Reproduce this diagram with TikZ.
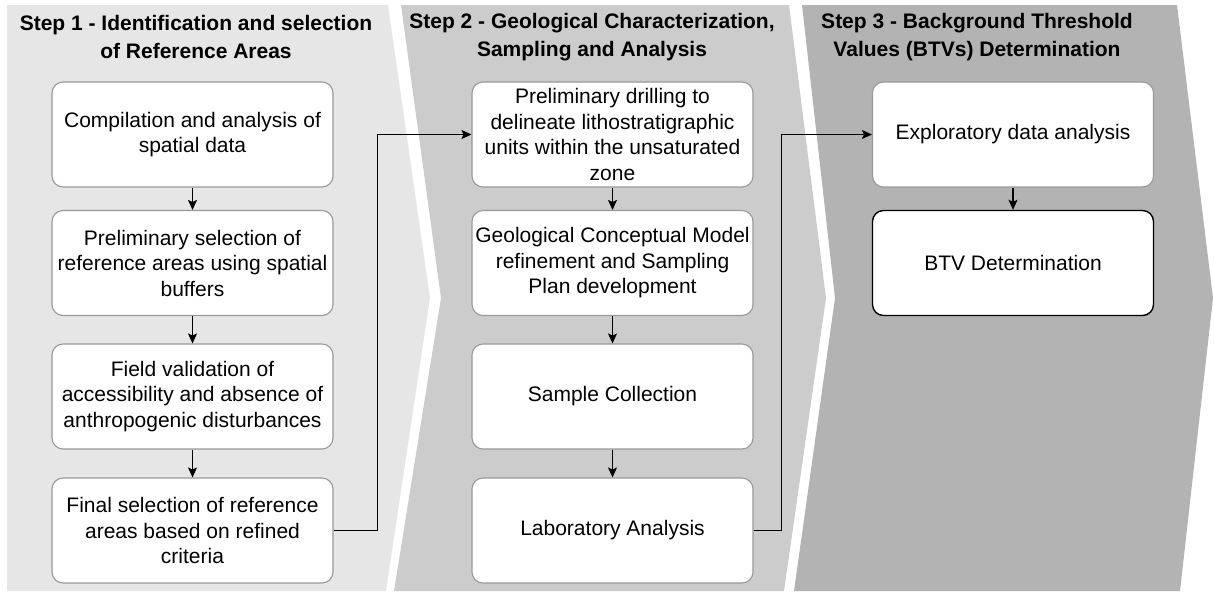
\documentclass[tikz,border=0pt]{standalone}
\usepackage{fontspec}
\setmainfont{Liberation Sans}
\usetikzlibrary{arrows.meta}
\definecolor{pone}{HTML}{E6E6E6}
\definecolor{ptwo}{HTML}{CCCCCC}
\definecolor{pthree}{HTML}{B3B3B3}
\definecolor{boxgray}{HTML}{999999}
\begin{document}
\begin{tikzpicture}[x=1pt,y=-1pt,
  box/.style={draw=boxgray, line width=1.1pt, fill=white, rounded corners=11pt,
    minimum width=281pt, minimum height=105pt, align=center, inner sep=0pt,
    font=\fontsize{21}{25.5}\selectfont},
  boxdark/.style={box, draw=black, line width=1.4pt},
  head/.style={align=center, inner sep=0pt, font=\fontsize{21}{28}\selectfont\bfseries},
  arr/.style={draw=black, line width=1.1pt, -{Stealth[length=10pt,width=9pt,inset=2pt]}}
]
\useasboundingbox (0,0) rectangle (1214,595);
% panels
\fill[pone] (7,5) -- (388,5) -- (430,298) -- (386,591) -- (7,591) -- cycle;
\fill[ptwo] (401,5) -- (789,5) -- (826,298) -- (784,591) -- (394,591) -- (441,298) -- cycle;
\fill[pthree] (802,5) -- (1177,5) -- (1213,298) -- (1180,591) -- (794,591) -- (835,298) -- cycle;
% headers
\node[head] (h1) at (196,37) {Step 1 - Identification and selection\\of Reference Areas};
\node[head] (h2) at (592,37) {Step 2 - Geological Characterization,\\Sampling and Analysis};
\node[head] (h3) at (977,37) {Step 3 - Background Threshold\\Values (BTVs) Determination};
% column 1
\node[box] (a1) at (192.5,134.5) {Compilation and analysis of\\spatial data};
\node[box] (a2) at (192.5,263) {Preliminary selection of\\reference areas using spatial\\buffers};
\node[box] (a3) at (192.5,396.5) {Field validation of\\accessibility and absence of\\anthropogenic disturbances};
\node[box] (a4) at (192.5,530.5) {Final selection of reference\\areas based on refined\\criteria};
% column 2
\node[box] (b1) at (612.5,134.5) {Preliminary drilling to\\delineate lithostratigraphic\\units within the unsaturated\\zone};
\node[box] (b2) at (612.5,263) {Geological Conceptual Model\\refinement and Sampling\\Plan development};
\node[box] (b3) at (612.5,396.5) {Sample Collection};
\node[box] (b4) at (612.5,530.5) {Laboratory Analysis};
% column 3
\node[box] (c1) at (1013,134.5) {Exploratory data analysis};
\node[boxdark] (c2) at (1013,263) {BTV Determination};
% arrows
\draw[arr] (a1) -- (a2);
\draw[arr] (a2) -- (a3);
\draw[arr] (a3) -- (a4);
\draw[arr] (b1) -- (b2);
\draw[arr] (b2) -- (b3);
\draw[arr] (b3) -- (b4);
\draw[arr] (c1) -- (c2);
\draw[arr] (a4.east) -- ++(44,0) |- (b1.west);
\draw[arr] (b4.east) -- ++(28,0) |- (c1.west);
\end{tikzpicture}
\end{document}
